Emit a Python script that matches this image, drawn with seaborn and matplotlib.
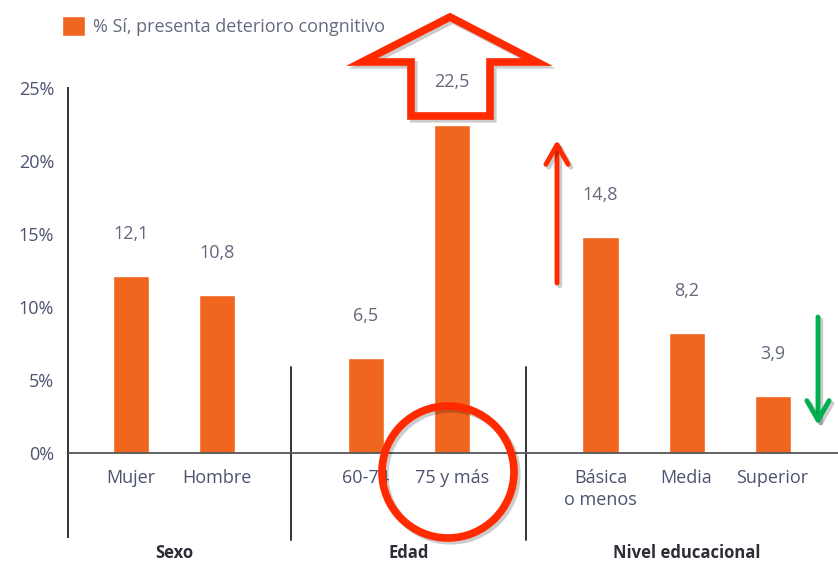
import matplotlib.pyplot as plt
import matplotlib.patches as mpatches
import matplotlib.patheffects as pe
import pandas as pd
import seaborn as sns


categorias = ["Mujer", "Hombre", "60-74", "75 y más", "Básica\no menos", "Media", "Superior"]
grupos = ["Sexo", "Sexo", "Edad", "Edad", "Nivel educacional", "Nivel educacional", "Nivel educacional"]
valores = [12.1, 10.8, 6.5, 22.5, 14.8, 8.2, 3.9]
serie = "% Sí, presenta deterioro congnitivo"
yticks = [0, 5, 10, 15, 20, 25]

NARANJA = "#F0661F"
TEXTO = "#4c5270"
ROJO = "#FF2A00"
VERDE = "#00B050"
W, H = 838, 564

sns.set_style("white")
plt.rcParams["font.family"] = ["Open Sans", "DejaVu Sans"]

# x positions: 1 unit inside a group, wider gap between groups
pos = []
for i, g in enumerate(grupos):
    if i == 0:
        pos.append(0.0)
    else:
        pos.append(pos[-1] + (1.0 if g == grupos[i - 1] else 1.73))

df = pd.DataFrame({"pos": pos, "valor": valores, "categoria": categorias, "grupo": grupos})


def px(x, y):
    return (x / W, 1 - y / H)


fig = plt.figure(figsize=(W / 100, H / 100), dpi=100)
ax = fig.add_axes([68 / W, 1 - 537 / H, 1 - 68 / W, (537 - 88) / H])

sns.barplot(data=df, x="pos", y="valor", color=NARANJA, saturation=1, native_scale=True,
            width=0.42, errorbar=None, ax=ax, zorder=2)

ax.set_xlim(-0.73, 8.22)
ax.set_ylim(-5.75, 25)
ax.set_xticks([])
ax.set_xlabel("")
ax.set_ylabel("")
ax.set_yticks(yticks)
ax.set_yticklabels([f"{t}%" for t in yticks])
ax.tick_params(axis="y", direction="in", length=6, width=1.4, color="#333333", pad=10,
               labelsize=13, labelcolor=TEXTO)
for s in ["top", "right", "bottom"]:
    ax.spines[s].set_visible(False)
ax.spines["left"].set_color("#333333")
ax.spines["left"].set_linewidth(1.4)
ax.axhline(0, color="#555555", lw=1.3, zorder=3)

# value labels
ax.bar_label(ax.containers[0], labels=[f"{v:.1f}".replace(".", ",") for v in valores],
             padding=24, fontsize=13, color="#63687c")

# category labels
for p, c in zip(pos, categorias):
    ax.text(p, -1.1, c, ha="center", va="top", fontsize=13, color=TEXTO, linespacing=1.3)

# group separators and titles
for i in range(1, len(pos)):
    if grupos[i] != grupos[i - 1]:
        xm = (pos[i - 1] + pos[i]) / 2
        ax.plot([xm, xm], [-5.95, 5.9], color="#333333", lw=1.4, clip_on=False)
for g in dict.fromkeys(grupos):
    c = df.loc[df["grupo"] == g, "pos"].mean()
    ax.text(c, -6.85, g, ha="center", va="center", fontsize=12, fontweight="bold", color="#2d2d38")

fig.legend(handles=[mpatches.Patch(facecolor=NARANJA, label=serie)], loc="center left",
           bbox_to_anchor=px(62, 26), frameon=False, fontsize=13, handlelength=1.3,
           handleheight=1.4, handletextpad=0.4, borderpad=0, borderaxespad=0,
           labelcolor="#646a80")

# annotations drawn over the chart
sombra = [pe.SimpleLineShadow(offset=(2, -2), alpha=0.2), pe.Normal()]
flecha = mpatches.Polygon(
    [px(450, 17), px(537, 62), px(490, 62), px(490, 116), px(411, 116), px(411, 62), px(362, 62)],
    closed=True, fill=False, edgecolor=ROJO, lw=5.5, joinstyle="miter",
    transform=fig.transFigure, path_effects=sombra)
fig.patches.append(flecha)

circulo = mpatches.Ellipse(px(448, 472), 132 / W, 132 / H, fill=False, edgecolor=ROJO, lw=5.5,
                           transform=fig.transFigure, path_effects=sombra)
fig.patches.append(circulo)

for (x0, y0), (x1, y1), col in [((557, 283), (557, 140), ROJO), ((818, 317), (818, 425), VERDE)]:
    fig.patches.append(mpatches.FancyArrowPatch(
        px(x0, y0), px(x1, y1), transform=fig.transFigure, color=col, lw=3.5,
        arrowstyle="->,head_length=0.7,head_width=0.4", mutation_scale=20,
        shrinkA=0, shrinkB=0, path_effects=sombra))

fig.savefig("out.png", dpi=100)
plt.close(fig)
